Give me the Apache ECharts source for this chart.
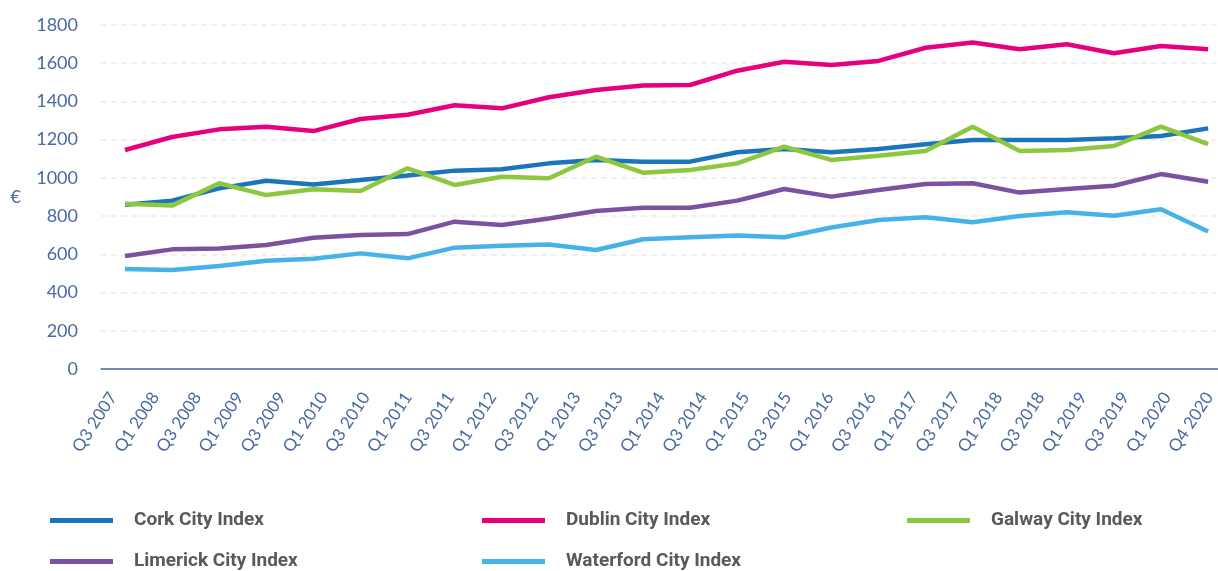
<!DOCTYPE html>
<html lang="en">
<head>
    <meta charset="UTF-8">
    <title>City Rent Index</title>
    <script src="https://cdn.jsdelivr.net/npm/echarts@6.0.0/dist/echarts.min.js"></script>
    <style>
        html, body {margin: 0; padding: 0; background: #fff;}
        #chart {width: 1218px; height: 571px;}
    </style>
</head>
<body>
<div id="chart"></div>
<script>
    // tick labels on the x axis (27 of them, drawn on their own axis)
    var quarterLabels = ['Q3 2007', 'Q1 2008', 'Q3 2008', 'Q1 2009', 'Q3 2009', 'Q1 2010', 'Q3 2010',
        'Q1 2011', 'Q3 2011', 'Q1 2012', 'Q3 2012', 'Q1 2013', 'Q3 2013', 'Q1 2014', 'Q3 2014',
        'Q1 2015', 'Q3 2015', 'Q1 2016', 'Q3 2016', 'Q1 2017', 'Q3 2017', 'Q1 2018', 'Q3 2018',
        'Q1 2019', 'Q3 2019', 'Q1 2020', 'Q4 2020'];

    // series values (24 points each)
    var cork = [860, 881, 945, 985, 966, 989, 1012, 1038, 1045, 1076, 1094, 1085,
        1085, 1134, 1151, 1134, 1151, 1176, 1198, 1198, 1198, 1207, 1219, 1259];
    var dublin = [1146, 1214, 1254, 1268, 1245, 1308, 1330, 1380, 1364, 1422, 1460, 1483,
        1486, 1561, 1608, 1591, 1612, 1681, 1708, 1673, 1699, 1652, 1690, 1673];
    var galway = [865, 855, 972, 910, 940, 931, 1050, 963, 1006, 998, 1111, 1027,
        1041, 1076, 1163, 1094, 1116, 1141, 1268, 1141, 1146, 1167, 1268, 1177];
    var limerick = [591, 626, 631, 649, 687, 701, 706, 771, 753, 788, 827, 844,
        844, 881, 942, 902, 937, 968, 972, 923, 942, 959, 1020, 980];
    var waterford = [523, 518, 539, 567, 577, 605, 579, 635, 645, 652, 623, 679,
        689, 698, 689, 740, 780, 794, 768, 801, 820, 802, 836, 719];

    var seriesNames = ['Cork City Index', 'Dublin City Index', 'Galway City Index',
        'Limerick City Index', 'Waterford City Index'];
    var seriesData = [cork, dublin, galway, limerick, waterford];
    var colors = ['#1b75bb', '#e6007e', '#8dc63f', '#7b52a1', '#45b3e5'];

    var axisBlue = '#4a6aa0';

    function toPairs(arr) {
        return arr.map(function (v, i) { return [i, v]; });
    }

    var chart = echarts.init(document.getElementById('chart'));

    var series = seriesNames.map(function (name, k) {
        return {
            name: name,
            type: 'line',
            xAxisIndex: 0,
            yAxisIndex: 0,
            data: toPairs(seriesData[k]),
            symbol: 'none',
            lineStyle: {width: 4.5, color: colors[k]},
            itemStyle: {color: colors[k]},
            z: 3
        };
    });

    // legend positions: [left, top]
    var legendPos = [[45, 506], [477, 506], [902, 506], [45, 547], [477, 547]];
    var legends = seriesNames.map(function (name, k) {
        return {
            data: [name],
            left: legendPos[k][0],
            top: legendPos[k][1],
            icon: 'rect',
            itemWidth: 63,
            itemHeight: 5,
            textStyle: {
                color: '#595959',
                fontFamily: 'Roboto',
                fontWeight: 'bold',
                fontSize: 19,
                padding: [0, 0, 0, 16]
            }
        };
    });

    var option = {
        animation: false,
        color: colors,
        grid: [
            {left: 101, right: 0, top: 25, bottom: 202},
            {left: 113, right: -9, top: 25, bottom: 202}
        ],
        xAxis: [
            {
                type: 'value',
                gridIndex: 0,
                min: -0.51,
                max: 23.21,
                axisLine: {show: true, onZero: false, lineStyle: {color: axisBlue, width: 1.5}},
                axisTick: {show: false},
                axisLabel: {show: false},
                splitLine: {show: false}
            },
            {
                type: 'category',
                gridIndex: 1,
                data: quarterLabels,
                boundaryGap: false,
                axisLine: {show: false},
                axisTick: {show: false},
                axisLabel: {
                    interval: 0,
                    rotate: 57,
                    margin: 25,
                    color: axisBlue,
                    fontFamily: 'Lato',
                    fontSize: 17
                }
            }
        ],
        yAxis: [
            {
                type: 'value',
                gridIndex: 0,
                min: 0,
                max: 1800,
                interval: 200,
                name: '€',
                nameLocation: 'middle',
                nameRotate: 0,
                nameGap: 80,
                nameTextStyle: {color: axisBlue, fontFamily: 'Lato', fontSize: 18, padding: [0, 0, 14, 0]},
                axisLine: {show: false},
                axisTick: {show: false},
                axisLabel: {
                    margin: 23,
                    color: axisBlue,
                    fontFamily: 'Lato',
                    fontSize: 18,
                    formatter: function (v) { return String(v); }
                },
                splitLine: {lineStyle: {color: '#ececec', width: 1.5, type: [6, 4]}}
            },
            {
                type: 'value',
                gridIndex: 1,
                show: false,
                min: 0,
                max: 1800
            }
        ],
        legend: legends,
        series: series
    };

    chart.setOption(option);
</script>
</body>
</html>
